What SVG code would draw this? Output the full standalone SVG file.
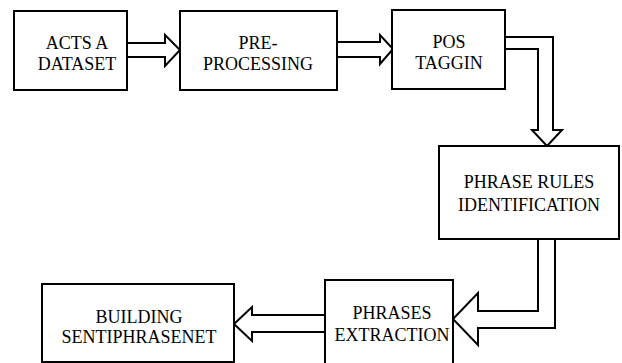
<svg xmlns="http://www.w3.org/2000/svg" width="622" height="363" viewBox="0 0 622 363">
  <style>
    .box { fill: #fff; stroke: #000; stroke-width: 2; }
    .arrow { fill: #fff; stroke: #000; stroke-width: 2; stroke-linejoin: miter; }
    .label { font-family: 'Liberation Serif', 'DejaVu Serif', serif; font-size: 18px; fill: #000; text-anchor: middle; }
  </style>
  <rect width="622" height="363" fill="#fff"/>

  <!-- hollow block arrows -->
  <g id="connectors">
    <path class="arrow" d="M127,43 H165 V35 L180,50 L165,66 V57 H127"/>
    <path class="arrow" d="M337,42 H380 V35 L393,49 L380,64 V57 H337"/>
    <path class="arrow" d="M505,37 H553 V130 H562 L547,146 L532,130 H538 V49 H505"/>
    <path class="arrow" d="M538,239 V311 H478 V293 L453,319 L478,345 V328 H555 V239"/>
    <path class="arrow" d="M325,315 H252 V307 L234,324 L252,341 V332 H325"/>
  </g>

  <g id="acts-dataset">
    <rect class="box" x="14" y="11" width="113" height="79"/>
    <text class="label" x="77" y="49">ACTS A</text>
    <text class="label" x="77" y="70">DATASET</text>
  </g>

  <g id="pre-processing">
    <rect class="box" x="180" y="11" width="157" height="79"/>
    <text class="label" x="258" y="49">PRE-</text>
    <text class="label" x="258" y="70">PROCESSING</text>
  </g>

  <g id="pos-taggin">
    <rect class="box" x="392" y="10" width="113" height="79"/>
    <text class="label" x="449" y="48">POS</text>
    <text class="label" x="449" y="69">TAGGIN</text>
  </g>

  <g id="phrase-rules">
    <rect class="box" x="439" y="146" width="180" height="93"/>
    <text class="label" x="529" y="188">PHRASE RULES</text>
    <text class="label" x="529" y="211">IDENTIFICATION</text>
  </g>

  <g id="phrases-extraction">
    <rect class="box" x="325" y="280" width="128" height="100"/>
    <text class="label" x="392" y="319">PHRASES</text>
    <text class="label" x="392" y="341">EXTRACTION</text>
  </g>

  <g id="building-sentiphrasenet">
    <rect class="box" x="42" y="284" width="192" height="78"/>
    <text class="label" x="139" y="323">BUILDING</text>
    <text class="label" x="139" y="343">SENTIPHRASENET</text>
  </g>
</svg>
